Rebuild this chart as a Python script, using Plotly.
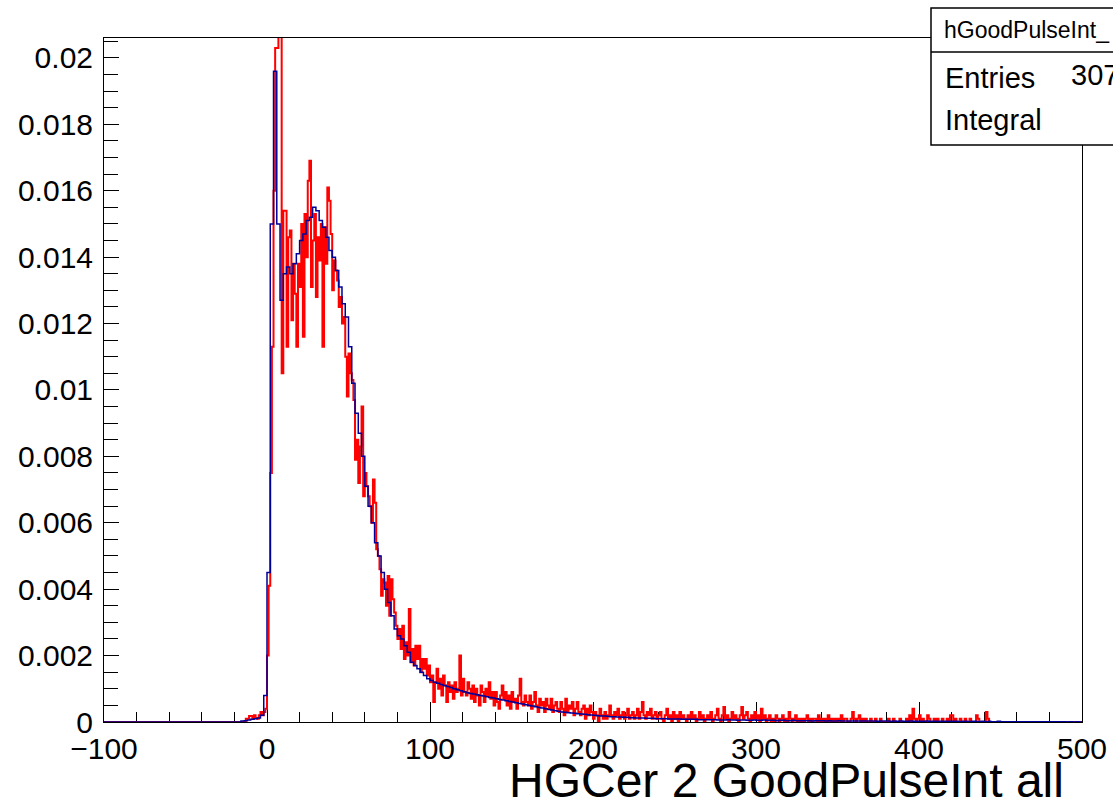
import plotly.graph_objects as go

# ---------------- data ----------------
hist_low = -100            # low edge of the histogram axis
data_start = -20           # first listed bin (bins below are empty)

# blue histogram: bins of width 2 from -20 to 500
blue_bin_width = 2
blue_values = [
    0, 0, 0.00003, 0.00004, 0.00006, 0.00008, 0.0001, 0.00012, 0.0002, 0.0008,
    0.0045, 0.0150, 0.0196, 0.0150, 0.0127, 0.0135, 0.0137, 0.0135, 0.0138, 0.0141,
    0.0145, 0.0147, 0.0151, 0.0152, 0.0155, 0.0154, 0.0151, 0.0149, 0.0146, 0.0142,
    0.0140, 0.0136, 0.0131, 0.0126, 0.0122, 0.0113, 0.0102, 0.0093, 0.0087, 0.0080,
    0.0071, 0.0065, 0.0060, 0.0054, 0.0050, 0.0045, 0.0040, 0.0036, 0.0032, 0.0028,
    0.0026, 0.0025, 0.0023, 0.0021, 0.0018, 0.0017, 0.0016, 0.0015, 0.0014, 0.0013,
    0.00125, 0.0012, 0.00117, 0.00113, 0.0011, 0.00107, 0.00104, 0.0010, 0.00097, 0.00094,
    0.00091, 0.00088, 0.00086, 0.00084, 0.00082, 0.0008, 0.00078, 0.00076, 0.00074, 0.00072,
    0.0007, 0.00068, 0.00066, 0.00064, 0.00062, 0.0006, 0.00058, 0.00056, 0.00054, 0.00052,
    0.0005, 0.00048, 0.00046, 0.00044, 0.00042, 0.0004, 0.00038, 0.00036, 0.00034, 0.00032,
    0.0003, 0.00029, 0.00028, 0.00027, 0.00026, 0.00025, 0.00024, 0.00023, 0.00022, 0.00021,
    0.0002, 0.00019, 0.00018, 0.00018, 0.00017, 0.00016, 0.00016, 0.00015, 0.00015, 0.00014,
    0.00014, 0.00013, 0.00013, 0.00012, 0.00012, 0.00012, 0.00011, 0.00011, 0.00011, 0.0001,
    0.0001, 0.0001, 0.0001, 0.00009, 0.00009, 0.00009, 0.00009, 0.00008, 0.00008, 0.00008,
    0.00008, 0.00008, 0.00007, 0.00007, 0.00007, 0.00007, 0.00007, 0.00007, 0.00006, 0.00006,
    0.00006, 0.00007, 0.00006, 0.00006, 0.00005, 0.00006, 0.00006, 0.00005, 0.00005, 0.00006,
    0.00005, 0.00005, 0.00006, 0.00005, 0.00005, 0.00005, 0.00004, 0.00005, 0.00005, 0.00004,
    0.00004, 0.00005, 0.00004, 0.00004, 0.00004, 0.00004, 0.00004, 0.00003, 0.00004, 0.00004,
    0.00004, 0.00003, 0.00004, 0.00003, 0.00003, 0.00004, 0.00003, 0.00003, 0.00003, 0.00003,
    0.00003, 0.00003, 0.00003, 0.00003, 0.00003, 0.00003, 0.00003, 0.00002, 0.00003, 0.00003,
    0.00003, 0.00002, 0.00003, 0.00002, 0.00003, 0.00002, 0.00002, 0.00003, 0.00002, 0.00002,
    0.00002, 0.00002, 0.00003, 0.00002, 0.00002, 0.00002, 0.00002, 0.00002, 0.00002, 0.00002,
    0.00002, 0.00002, 0.00001, 0.00002, 0.00002, 0.00001, 0.00002, 0.00002, 0.00001, 0.00002,
    0.00001, 0.00002, 0.00001, 0.00001, 0.00002, 0.00001, 0.00001, 0.00001, 0.00001, 0.00001,
    0.00001, 0.00001, 0.00001, 0.00001, 0.00001, 0.00001, 0.00001, 0.00001, 0.00001, 0.00001,
    0.00001, 0.00001, 0.00001, 0.00001, 0.00001, 0.0, 0.00001, 0.0, 0.00001, 0.0,
]

# red histogram: bins of width 1 from -20 to 500 (one row = 10 bins)
red_bin_width = 1
red_values = [
    0, 0, 0, 0, 0, 0, 0, 0.0001, 0.0001, 0.00018,                                     # -20
    0.00018, 0.0001, 0.0002, 0.00012, 0.0001, 0.0002, 0.0003, 0.0002, 0.0003, 0.0004,    # -10
    0.0020, 0.0041, 0.0075, 0.0113, 0.0160, 0.0203, 0.0203, 0.0230, 0.0218, 0.0105,      # 0
    0.0154, 0.0154, 0.0113, 0.0146, 0.0148, 0.0121, 0.0138, 0.0129, 0.0113, 0.0138,      # 10
    0.0131, 0.0150, 0.0116, 0.0153, 0.0140, 0.0163, 0.0169, 0.0131, 0.0145, 0.0153,      # 20
    0.0128, 0.0146, 0.0139, 0.0150, 0.0113, 0.0149, 0.0138, 0.0161, 0.0157, 0.0147,      # 30
    0.0130, 0.0139, 0.0136, 0.0133, 0.0125, 0.0128, 0.0120, 0.0122, 0.0110, 0.0098,      # 40
    0.0111, 0.0105, 0.0103, 0.0097, 0.0079, 0.0085, 0.0072, 0.0083, 0.0095, 0.0068,      # 50
    0.0075, 0.0071, 0.0068, 0.0065, 0.0060, 0.0073, 0.0066, 0.0052, 0.0050, 0.0046,      # 60
    0.0038, 0.0043, 0.0042, 0.0035, 0.0044, 0.0032, 0.0043, 0.0037, 0.0033, 0.0029,      # 70
    0.0025, 0.0028, 0.0022, 0.0029, 0.0019, 0.0024, 0.0020, 0.0034, 0.0018, 0.0022,      # 80
    0.0017, 0.0023, 0.0019, 0.0023, 0.0015, 0.0019, 0.0016, 0.0019, 0.0014, 0.0017,      # 90
    0.0012, 0.0014, 0.0006, 0.0012, 0.0016, 0.0010, 0.0013, 0.0008, 0.0014, 0.0011,      # 100
    0.0006, 0.0012, 0.0009, 0.0011, 0.0007, 0.0012, 0.0009, 0.0010, 0.0020, 0.0008,      # 110
    0.0013, 0.0009, 0.0008, 0.0012, 0.0010, 0.0007, 0.0011, 0.0006, 0.0010, 0.0008,      # 120
    0.0005, 0.0011, 0.0009, 0.0006, 0.0010, 0.0008, 0.0012, 0.0007, 0.0009, 0.0005,      # 130
    0.0009, 0.0006, 0.0004, 0.0008, 0.0011, 0.0007, 0.0009, 0.0005, 0.0008, 0.0004,      # 140
    0.0009, 0.0006, 0.0007, 0.0004, 0.0008, 0.0013, 0.0006, 0.0005, 0.0008, 0.0006,      # 150
    0.0005, 0.0008, 0.0004, 0.0006, 0.0009, 0.0005, 0.0003, 0.0007, 0.0005, 0.0006,      # 160
    0.0003, 0.0007, 0.0005, 0.0004, 0.0007, 0.0003, 0.0005, 0.0006, 0.0004, 0.0003,      # 170
    0.0006, 0.0004, 0.0002, 0.0007, 0.0003, 0.0005, 0.0004, 0.0006, 0.0002, 0.0004,      # 180
    0.0006, 0.0003, 0.0002, 0.0004, 0.0005, 0.0001, 0.0004, 0.0002, 0.0005, 0.0003,      # 190
    0.0001, 0.0003, 0.0002, 0.0, 0.0004, 0.0002, 0.0001, 0.0003, 0.0001, 0.0002,         # 200
    0.0005, 0.0002, 0.0001, 0.0003, 0.0002, 0.0004, 0.0001, 0.0002, 0.0003, 0.0001,      # 210
    0.0002, 0.0004, 0.0001, 0.0002, 0.0003, 0.0001, 0.0002, 0.0004, 0.0001, 0.0003,      # 220
    0.0006, 0.0002, 0.0001, 0.0003, 0.0002, 0.0004, 0.0001, 0.0002, 0.0003, 0.0001,      # 230
    0.0002, 0.0003, 0.0001, 0.0, 0.0002, 0.0004, 0.0001, 0.0002, 0.0, 0.0003,            # 240
    0.0001, 0.0002, 0.0, 0.0003, 0.0001, 0.0002, 0.0001, 0.0, 0.0002, 0.0001,            # 250
    0.0003, 0.0001, 0.0002, 0.0, 0.0001, 0.0003, 0.0001, 0.0002, 0.0, 0.0001,            # 260
    0.0002, 0.0001, 0.0003, 0.0, 0.0001, 0.0002, 0.0004, 0.0001, 0.0, 0.0002,            # 270
    0.00045, 0.0001, 0.0002, 0.0, 0.0001, 0.0003, 0.0001, 0.0002, 0.0001, 0.0,           # 280
    0.0002, 0.00045, 0.0001, 0.0002, 0.0003, 0.0001, 0.0, 0.0002, 0.0001, 0.0003,        # 290
    0.0001, 0.0002, 0.0, 0.0004, 0.0001, 0.0002, 0.0, 0.0001, 0.0002, 0.0,               # 300
    0.0001, 0.0, 0.0002, 0.0001, 0.0, 0.0001, 0.0002, 0.0, 0.0001, 0.0,                  # 310
    0.0003, 0.0001, 0.0, 0.0001, 0.0002, 0.0, 0.0001, 0.0, 0.0001, 0.0,                  # 320
    0.0001, 0.0002, 0.0, 0.0001, 0.0, 0.0001, 0.0001, 0.0, 0.0002, 0.0,                  # 330
    0.0001, 0.0, 0.0001, 0.0, 0.0002, 0.0, 0.0001, 0.0, 0.0001, 0.0,                     # 340
    0.0001, 0.0, 0.0002, 0.0, 0.0001, 0.0001, 0.0, 0.0, 0.0001, 0.0003,                  # 350
    0.0001, 0.0, 0.0001, 0.0002, 0.0, 0.0001, 0.0, 0.0001, 0.0, 0.0,                     # 360
    0.0001, 0.0, 0.0, 0.0001, 0.0, 0.0, 0.0001, 0.0, 0.0, 0.0,                           # 370
    0.0, 0.0001, 0.0, 0.0, 0.0001, 0.0, 0.0, 0.0, 0.0001, 0.0,                           # 380
    0.0, 0.0, 0.0001, 0.0, 0.0002, 0.0, 0.0004, 0.0001, 0.0, 0.0001,                     # 390
    0.0002, 0.0, 0.0001, 0.0, 0.0, 0.0002, 0.0001, 0.0, 0.0, 0.0001,                     # 400
    0.0, 0.0001, 0.0, 0.0, 0.0001, 0.0, 0.0, 0.0001, 0.0, 0.0002,                        # 410
    0.0002, 0.0, 0.0001, 0.0, 0.0, 0.0001, 0.0, 0.0, 0.0001, 0.0,                        # 420
    0.0, 0.0001, 0.0, 0.0, 0.0, 0.0002, 0.0001, 0.0, 0.0, 0.0,                           # 430
    0.0, 0.0003, 0.0001, 0.0, 0.0, 0.0, 0.0, 0.0, 0.0, 0.0,                              # 440
    0.0, 0.0, 0.0, 0.0, 0.0, 0.0, 0.0, 0.0, 0.0, 0.0,                                    # 450
    0.0, 0.0, 0.0, 0.0, 0.0, 0.0, 0.0, 0.0, 0.0, 0.0,                                    # 460
    0.0, 0.0, 0.0, 0.0, 0.0, 0.0, 0.0, 0.0, 0.0, 0.0,                                    # 470
    0.0, 0.0, 0.0, 0.0, 0.0, 0.0, 0.0, 0.0, 0.0, 0.0,                                    # 480
    0.0, 0.0, 0.0, 0.0, 0.0, 0.0, 0.0, 0.0, 0.0, 0.0,                                    # 490
]

x_tick_values = [-100, 0, 100, 200, 300, 400, 500]
x_tick_labels = ["\u2212100", "0", "100", "200", "300", "400", "500"]
y_tick_values = [0, 0.002, 0.004, 0.006, 0.008, 0.01, 0.012, 0.014, 0.016, 0.018, 0.02]
y_tick_labels = ["0", "0.002", "0.004", "0.006", "0.008", "0.01", "0.012",
                 "0.014", "0.016", "0.018", "0.02"]
x_range = [-100, 500]
y_range = [0, 0.0206]

x_title = "HGCer 2 GoodPulseInt all"
stats_name = "hGoodPulseInt_"
stats_rows = [("Entries", "307"), ("Integral", "")]


# ---------------- helpers ----------------
def step_xy(vals, width):
    n_empty = int(round((data_start - hist_low) / width))
    full = [0.0] * n_empty + list(vals)
    xs = [hist_low + i * width for i in range(len(full) + 1)]
    ys = full + [full[-1]]
    return xs, ys


FONT = "Liberation Sans, Arial, Helvetica, sans-serif"

# pixel layout of the canvas
W, H = 1113, 803
L, R, T, B = 104, 1082, 38, 722


def px(xp):
    return (xp - L) / (R - L)


def py(yp):
    return (B - yp) / (B - T)


fig = go.Figure()
rx, ry = step_xy(red_values, red_bin_width)
bx, by = step_xy(blue_values, blue_bin_width)
fig.add_trace(go.Scatter(x=rx, y=ry, mode="lines",
                         line=dict(color="#ff0000", width=2, shape="hv"), hoverinfo="skip"))
fig.add_trace(go.Scatter(x=bx, y=by, mode="lines",
                         line=dict(color="#000099", width=1.5, shape="hv"), hoverinfo="skip"))

axis_common = dict(
    showline=True, linecolor="black", linewidth=1, mirror=True, automargin=False,
    showgrid=False, zeroline=False, ticks="inside", tickcolor="black", tickwidth=1,
    tickfont=dict(family=FONT, size=30, color="black"), layer="below traces",
)

fig.update_layout(
    width=W, height=H,
    margin=dict(l=L, r=W - R, t=T, b=H - B, pad=0, autoexpand=False),
    paper_bgcolor="white", plot_bgcolor="white",
    showlegend=False,
    xaxis=dict(range=x_range, tickmode="array", tickvals=x_tick_values, ticktext=x_tick_labels,
               ticklen=20,
               minor=dict(tickmode="linear", tick0=-100, dtick=20, ticklen=10, ticks="inside",
                          tickcolor="black", tickwidth=1),
               **axis_common),
    yaxis=dict(range=y_range, tickmode="array", tickvals=y_tick_values, ticktext=y_tick_labels,
               ticklen=15, ticklabelstandoff=4,
               minor=dict(tickmode="linear", tick0=0, dtick=0.0005, ticklen=14, ticks="inside",
                          tickcolor="black", tickwidth=1),
               **axis_common),
)

# axis title at bottom right (ROOT style)
fig.add_annotation(text=x_title, xref="paper", yref="paper", x=px(1066), y=py(780),
                   xanchor="right", yanchor="middle", showarrow=False,
                   font=dict(family=FONT, size=48, color="black"))

# statistics box
fig.add_shape(type="rect", xref="paper", yref="paper", x0=px(931), x1=px(1130), y0=py(145), y1=py(8),
              line=dict(color="black", width=1.5), fillcolor="white", layer="above")
fig.add_shape(type="line", xref="paper", yref="paper", x0=px(931), x1=px(1130), y0=py(52), y1=py(52),
              line=dict(color="black", width=1.5), layer="above")
fig.add_annotation(text=stats_name, xref="paper", yref="paper", x=px(942), y=py(30),
                   xanchor="left", yanchor="middle", showarrow=False,
                   font=dict(family=FONT, size=23, color="black"))
row_y = [78, 120]
for (lab, val), yy in zip(stats_rows, row_y):
    fig.add_annotation(text=lab, xref="paper", yref="paper", x=px(943), y=py(yy),
                       xanchor="left", yanchor="middle", showarrow=False,
                       font=dict(family=FONT, size=29, color="black"))
    if val:
        fig.add_annotation(text=val, xref="paper", yref="paper", x=px(1069), y=py(yy - 3),
                           xanchor="left", yanchor="middle", showarrow=False,
                           font=dict(family=FONT, size=29, color="black"))

fig.write_html("out.html")
